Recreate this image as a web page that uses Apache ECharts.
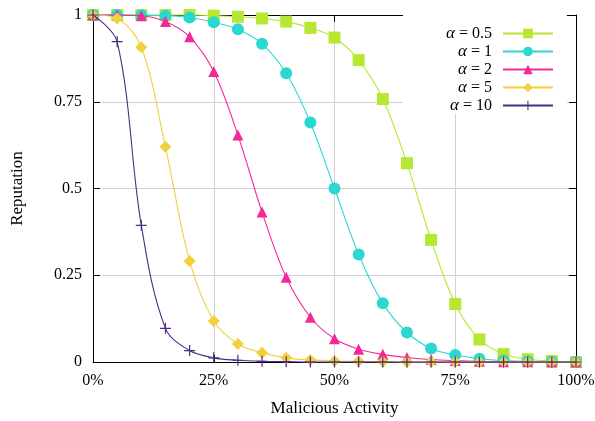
<!DOCTYPE html>
<html>
<head>
<meta charset="utf-8">
<script src="https://cdn.jsdelivr.net/npm/echarts@6/dist/echarts.min.js"></script>
<style>html,body{margin:0;padding:0;background:#fff}#c{width:595px;height:421px}</style>
</head>
<body>
<div id="c"></div>
<script>
// Malicious activity (%)
var activity = [0,5,10,15,20,25,30,35,40,45,50,55,60,65,70,75,80,85,90,95,100];
var xTicks = [0,25,50,75,100];
var yTicks = [0,0.25,0.5,0.75,1];
var alphas = ['0.5','1','2','5','10'];
var names = ['α = 0.5','α = 1','α = 2','α = 5','α = 10'];
var rep05 = [1,1,1,1,1,0.998,0.995,0.99,0.981,0.963,0.935,0.870,0.758,0.573,0.352,0.167,0.065,0.023,0.008,0.003,0];
var rep1  = [1,1,0.999,0.998,0.993,0.979,0.959,0.917,0.832,0.690,0.5,0.310,0.169,0.085,0.039,0.020,0.0095,0.004,0.002,0.001,0];
var rep2  = [1,1,0.998,0.981,0.937,0.837,0.654,0.432,0.244,0.129,0.067,0.037,0.022,0.013,0.007,0.004,0.002,0.001,0.001,0,0];
var rep5  = [1,0.990,0.907,0.620,0.291,0.118,0.052,0.027,0.012,0.006,0.003,0.002,0.001,0,0,0,0,0,0,0,0];
var rep10 = [1,0.923,0.394,0.097,0.033,0.012,0.005,0.002,0.001,0,0,0,0,0,0,0,0,0,0,0,0];

var FONT = 'Liberation Serif';
var colors = ['#b6e832','#2ad8d0','#f22a98','#f2d03e','#4b2d86'];
var symbols = ['rect','circle','triangle','diamond',
  'path://M4.45,0H5.55V4.45H10V5.55H5.55V10H4.45V5.55H0V4.45H4.45Z'];
var sizes = [12,12,11,12,11];
var allData = [rep05,rep1,rep2,rep5,rep10];

function pairs(arr){ return activity.map(function(x,i){ return [x, arr[i]]; }); }

var series = allData.map(function(arr,i){
  return {
    name: names[i], type: 'line', data: pairs(arr),
    smooth: 0.35, clip: false,
    symbol: symbols[i], symbolSize: sizes[i],
    lineStyle: {color: colors[i], width: 1.1},
    itemStyle: {color: colors[i]},
    emphasis: {disabled: true}, z: 2 + i
  };
});

var chart = echarts.init(document.getElementById('c'), null, {renderer: 'canvas'});
var tickCommon = {show: true, inside: true, length: 7, lineStyle: {color: '#000', width: 1}};
chart.setOption({
  animation: false,
  grid: {left: 93, right: 19, top: 15, bottom: 59, containLabel: false, outerBoundsMode: 'none'},
  legend: {
    data: names, orient: 'vertical', left: 403, top: 15,
    align: 'right', backgroundColor: '#fff',
    padding: [10, 13, 0, 43], itemGap: 1, itemWidth: 50, itemHeight: 12,
    formatter: function(n){
      var k = names.indexOf(n);
      return '{i|α}{t| = ' + alphas[k] + '}';
    },
    textStyle: {
      fontFamily: FONT, fontSize: 16, color: '#000', lineHeight: 12,
      rich: {
        i: {fontFamily: FONT, fontSize: 17, fontStyle: 'italic', lineHeight: 12},
        t: {fontFamily: FONT, fontSize: 16, lineHeight: 12, padding: [0, 6, 0, 0]}
      }
    }
  },
  xAxis: [{
    type: 'value', min: 0, max: 100, interval: 25,
    name: 'Malicious Activity', nameLocation: 'middle', nameGap: 38,
    nameTextStyle: {fontFamily: FONT, fontSize: 17, color: '#000'},
    axisLine: {show: true, onZero: false, lineStyle: {color: '#000', width: 1}},
    axisTick: tickCommon,
    axisLabel: {fontFamily: FONT, fontSize: 16, color: '#000', margin: 11,
      formatter: function(v){ return v + '%'; }},
    splitLine: {show: true, lineStyle: {color: '#d2d2d2', width: 1}}
  }, {
    type: 'value', position: 'top', min: 0, max: 100, interval: 25,
    axisLine: {show: true, onZero: false, lineStyle: {color: '#000', width: 1}},
    axisTick: tickCommon, axisLabel: {show: false}, splitLine: {show: false}
  }],
  yAxis: [{
    type: 'value', min: 0, max: 1, interval: 0.25,
    name: 'Reputation', nameLocation: 'middle', nameGap: 67, nameRotate: 90,
    nameTextStyle: {fontFamily: FONT, fontSize: 17, color: '#000'},
    axisLine: {show: true, onZero: false, lineStyle: {color: '#000', width: 1}},
    axisTick: tickCommon,
    axisLabel: {fontFamily: FONT, fontSize: 16, color: '#000', margin: 11,
      formatter: function(v){ return String(v); }},
    splitLine: {show: true, lineStyle: {color: '#d2d2d2', width: 1}}
  }, {
    type: 'value', position: 'right', min: 0, max: 1, interval: 0.25,
    axisLine: {show: true, onZero: false, lineStyle: {color: '#000', width: 1}},
    axisTick: tickCommon, axisLabel: {show: false}, splitLine: {show: false}
  }],
  series: series
});
</script>
</body>
</html>
